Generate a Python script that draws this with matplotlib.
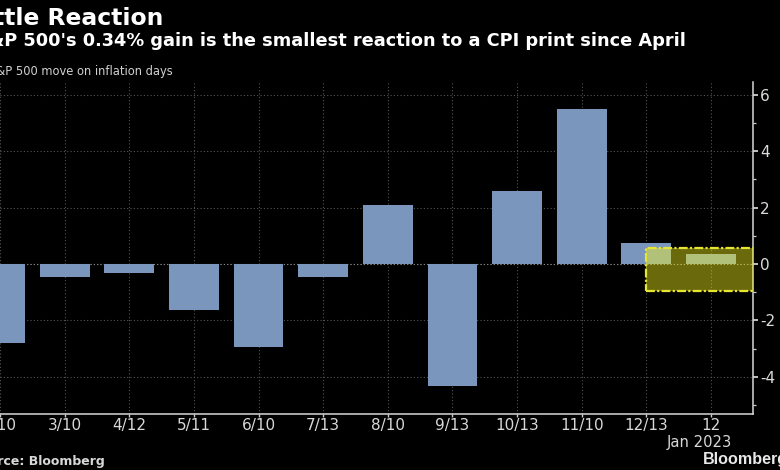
import matplotlib
matplotlib.use("Agg")
import matplotlib.pyplot as plt
from matplotlib.patches import Rectangle

labels = ["2/10", "3/10", "4/12", "5/11", "6/10", "7/13", "8/10", "9/13", "10/13", "11/10", "12/13", "12"]
moves = [-2.8, -0.45, -0.33, -1.65, -2.93, -0.45, 2.1, -4.32, 2.6, 5.5, 0.73, 0.34]
yticks = [-4, -2, 0, 2, 4, 6]
ytick_labels = ["-4", "-2", "0", "2", "4", "6"]
minor_yticks = [-5, -3, -1, 1, 3, 5]

W, H = 780, 470
fig = plt.figure(figsize=(W/100, H/100), dpi=100, facecolor="black")
ax = fig.add_axes([0, 1-414/H, 753/W, (414-82)/H], facecolor="black")
step = 64.8
x0 = -2.0
ax.set_xlim((0-x0)/step, (753-x0)/step)
ax.set_ylim(-5.32, 6.45)

gridc = "#555555"
ax.grid(True, color=gridc, linestyle=(0, (1, 2)), linewidth=0.8)
ax.set_axisbelow(True)
ax.bar(range(len(moves)), moves, width=0.77, color="#7b96bd", zorder=2)
ax.axhline(0, color="#8a8a8a", linewidth=0.8, linestyle=(0, (1, 2)), zorder=1)

# highlighted final window
box_left = 10.0
ax.add_patch(Rectangle((box_left, -0.95), 2.65, 1.5, facecolor="#ffff1e", alpha=0.42,
                       edgecolor="none", zorder=3))
ax.add_patch(Rectangle((box_left, -0.95), 2.65, 1.5, facecolor="none", edgecolor="#e6e632",
                       linewidth=1.6, linestyle=(0, (4, 1, 1, 1)), zorder=4))

ax.set_xticks(range(len(labels)))
ax.set_xticklabels(labels)
ax.yaxis.tick_right()
ax.set_yticks(yticks)
ax.set_yticklabels(ytick_labels)
ax.set_yticks(minor_yticks, minor=True)
ax.tick_params(axis="y", which="major", length=3.5, width=1.2, color="#e0e0e0", labelcolor="#dcdcdc", labelsize=11, pad=1.5)
ax.tick_params(axis="y", which="minor", length=1.8, width=0.9, color="#cccccc")
ax.tick_params(axis="x", length=2.5, width=1, color="#cccccc", labelcolor="#d8d8d8", labelsize=11, pad=0.5)
for s in ["top", "left"]:
    ax.spines[s].set_visible(False)
for s in ["right", "bottom"]:
    ax.spines[s].set_color("#d8d8d8")
    ax.spines[s].set_linewidth(1.1)

def px(x, y, s, **kw):
    fig.text(x/W, 1-y/H, s, va="baseline", **kw)

px(163, 25, "Little Reaction", color="white", fontsize=16.9, fontweight="bold", ha="right")
px(686, 46, "S&P 500's 0.34% gain is the smallest reaction to a CPI print since April", color="white", fontsize=12.8, fontweight="bold", ha="right")
px(173, 75, "S&P 500 move on inflation days", color="#d0d0d0", fontsize=8.3, ha="right")
px(105, 465, "Source: Bloomberg", color="#d8d8d8", fontsize=9, fontweight="bold", ha="right")
px(703, 464, "Bloomberg", color="#e8e8e8", fontsize=11.6, fontweight="bold", family="Liberation Sans")
fig.text(699/W, 1-447/H, "Jan 2023", color="#d8d8d8", fontsize=10.6, ha="center", va="baseline")

fig.savefig("out.png", dpi=100, facecolor="black")
